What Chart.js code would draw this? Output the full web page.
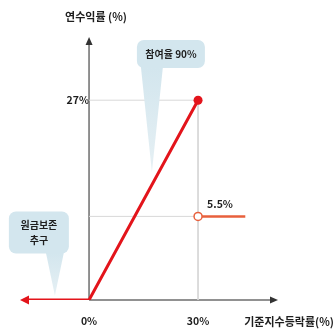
<!DOCTYPE html>
<html>
<head>
<meta charset="utf-8">
<script src="https://cdn.jsdelivr.net/npm/chart.js@4.4.1/dist/chart.umd.min.js"></script>
<style>
  html, body { margin: 0; padding: 0; background: #fff; }
  #wrap { width: 336px; height: 331px; }
</style>
</head>
<body>
<div id="wrap"><canvas id="chart"></canvas></div>
<script>
// payoff: 기준지수등락률 (%) -> 연수익률 (%)
const indexChange = [-17, 0, 30];
const annualReturn = [0, 0, 27];
// after the 30% barrier the return drops to 5.5%
const afterIndex = [30, 43];
const afterReturn = [5.5, 5.5];
const xTicks = [0, 30];
const yTicks = [27];

// the y axis of the original is not to scale: 5.5% sits higher than it should
const yBreakIn = [0, 5.5, 27, 35];
const yBreakOut = [0, 11.3, 27, 35];

const FONT = '"Noto Sans CJK KR", "Noto Sans", sans-serif';
Chart.defaults.font.family = FONT;

function piece(v, from, to) {
  let i = 0;
  while (i < from.length - 2 && v > from[i + 1]) i++;
  return to[i] + (v - from[i]) * (to[i + 1] - to[i]) / (from[i + 1] - from[i]);
}

class BrokenLinear extends Chart.LinearScale {
  getPixelForValue(v) {
    return super.getPixelForValue(piece(v, yBreakIn, yBreakOut));
  }
  getValueForPixel(p) {
    return piece(super.getValueForPixel(p), yBreakOut, yBreakIn);
  }
}
BrokenLinear.id = 'brokenLinear';
BrokenLinear.defaults = Chart.LinearScale.defaults;
Chart.register(BrokenLinear);

const payoff = indexChange.map((x, i) => ({ x, y: annualReturn[i] }));
const after = afterIndex.map((x, i) => ({ x, y: afterReturn[i] }));
const guideTop = [{ x: 0, y: 27 }, { x: 30, y: 27 }, { x: 30, y: 0 }];
const guideLow = [{ x: 0, y: 5.5 }, { x: 30, y: 5.5 }];

const callouts = [
  { lines: ['참여율 90%'], tip: [17.3, 13.7], box: [-15, -132, 68, 28], tail: 11 },
  { lines: ['원금보존', '추구'], tip: [-9.4, 0.3], box: [-46, -84, 60, 42], tail: 9 }
];

function roundRect(ctx, x, y, w, h, r) {
  ctx.beginPath();
  ctx.moveTo(x + r, y);
  ctx.arcTo(x + w, y, x + w, y + h, r);
  ctx.arcTo(x + w, y + h, x, y + h, r);
  ctx.arcTo(x, y + h, x, y, r);
  ctx.arcTo(x, y, x + w, y, r);
  ctx.closePath();
}

function arrow(ctx, x, y, dx, dy, len, half, color) {
  const nx = -dy, ny = dx;
  ctx.beginPath();
  ctx.moveTo(x, y);
  ctx.lineTo(x - dx * len + nx * half, y - dy * len + ny * half);
  ctx.lineTo(x - dx * len - nx * half, y - dy * len - ny * half);
  ctx.closePath();
  ctx.fillStyle = color;
  ctx.fill();
}

const decorations = {
  id: 'decorations',
  beforeDatasetsDraw(chart) {
    const { ctx, chartArea, scales: { x, y } } = chart;
    const ox = x.getPixelForValue(0), oy = y.getPixelForValue(0);
    ctx.save();
    ctx.strokeStyle = '#6e6e6e';
    ctx.lineWidth = 1.5;
    ctx.beginPath();
    ctx.moveTo(ox, oy);
    ctx.lineTo(ox, chartArea.top - 1);
    ctx.moveTo(ox, oy);
    ctx.lineTo(chartArea.right - 4, oy);
    ctx.stroke();
    arrow(ctx, ox, chartArea.top - 4, 0, -1, 8, 3.5, '#333');
    arrow(ctx, chartArea.right, oy, 1, 0, 8, 3.5, '#333');
    ctx.restore();
  },
  beforeDatasetDraw(chart, args) {
    if (args.index !== 0) return;
    const { ctx, scales: { x, y } } = chart;
    ctx.save();
    callouts.forEach(c => {
      const tx = x.getPixelForValue(c.tip[0]);
      const ty = y.getPixelForValue(c.tip[1]);
      const [bx, by, bw, bh] = c.box;
      const left = tx + bx, top = ty + by;
      ctx.fillStyle = '#d3e6ee';
      roundRect(ctx, left, top, bw, bh, 7);
      ctx.fill();
      const g = ctx.createLinearGradient(0, top + bh, 0, ty);
      g.addColorStop(0, '#d3e6ee');
      g.addColorStop(1, '#e6f0f4');
      ctx.fillStyle = g;
      ctx.beginPath();
      ctx.moveTo(tx - c.tail, top + bh - 1);
      ctx.lineTo(tx + c.tail, top + bh - 1);
      ctx.lineTo(tx, ty);
      ctx.closePath();
      ctx.fill();
      ctx.fillStyle = '#1e1e1e';
      ctx.font = 'bold 10px ' + FONT;
      ctx.textAlign = 'center';
      ctx.textBaseline = 'middle';
      const lh = 15;
      const cy = top + bh / 2 - (c.lines.length - 1) * lh / 2;
      c.lines.forEach((t, i) => ctx.fillText(t, left + bw / 2, cy + i * lh));
    });
    ctx.restore();
  },
  afterDatasetsDraw(chart) {
    const { ctx, scales: { x, y } } = chart;
    ctx.save();
    // left arrowhead of the red line
    const p0 = chart.getDatasetMeta(0).data[0];
    arrow(ctx, x.getPixelForValue(-19), p0.y, -1, 0, 9, 4.5, '#e3141b');
    ctx.fillStyle = '#1e1e1e';
    ctx.font = 'bold 11px ' + FONT;
    ctx.textBaseline = 'middle';
    ctx.textAlign = 'center';
    ctx.fillText('연수익률 (%)', x.getPixelForValue(0) + 7, 17);
    ctx.textAlign = 'right';
    ctx.fillText('기준지수등락률(%)', 334, y.getPixelForValue(0) + 22);
    const c = chart.getDatasetMeta(1).data[0];
    ctx.textAlign = 'left';
    ctx.font = 'bold 10.5px ' + FONT;
    ctx.fillText(afterReturn[0] + '%', c.x + 9, c.y - 12);
    ctx.restore();
  }
};

new Chart(document.getElementById('chart'), {
  type: 'scatter',
  data: {
    datasets: [
      {
        data: payoff,
        showLine: true,
        borderColor: '#e3141b',
        borderWidth: 3,
        pointRadius: [0, 0, 4.5],
        pointBackgroundColor: '#e3141b',
        pointBorderWidth: 0
      },
      {
        data: after,
        showLine: true,
        borderColor: '#e8603c',
        borderWidth: 2.5,
        pointRadius: [4, 0],
        pointBackgroundColor: '#fff',
        pointBorderColor: '#e8603c',
        pointBorderWidth: 1.5
      },
      {
        data: guideTop,
        showLine: true,
        borderColor: '#d8d8d8',
        borderWidth: 1,
        pointRadius: 0
      },
      {
        data: guideLow,
        showLine: true,
        borderColor: '#d8d8d8',
        borderWidth: 1,
        pointRadius: 0
      }
    ]
  },
  options: {
    responsive: true,
    maintainAspectRatio: false,
    animation: false,
    layout: { padding: { left: 20, right: 58, top: 41, bottom: 3 } },
    plugins: {
      legend: { display: false },
      tooltip: { enabled: false }
    },
    scales: {
      x: {
        type: 'linear',
        min: -19,
        max: 52,
        grid: { display: false, drawTicks: false },
        border: { display: false },
        afterBuildTicks: s => { s.ticks = xTicks.map(v => ({ value: v })); },
        afterFit: s => { s.height = 28; },
        ticks: {
          callback: v => v + '%',
          padding: 15,
          maxRotation: 0,
          autoSkip: false,
          color: '#1e1e1e',
          font: { size: 10.5, weight: 'bold' }
        }
      },
      y: {
        type: 'brokenLinear',
        min: 0,
        max: 35,
        position: { x: 0 },
        grid: { display: false, drawTicks: false },
        border: { display: false },
        afterBuildTicks: s => { s.ticks = yTicks.map(v => ({ value: v })); },
        ticks: {
          callback: v => v + '%',
          padding: 9,
          color: '#1e1e1e',
          font: { size: 10.5, weight: 'bold' }
        }
      }
    }
  },
  plugins: [decorations]
});
</script>
</body>
</html>
